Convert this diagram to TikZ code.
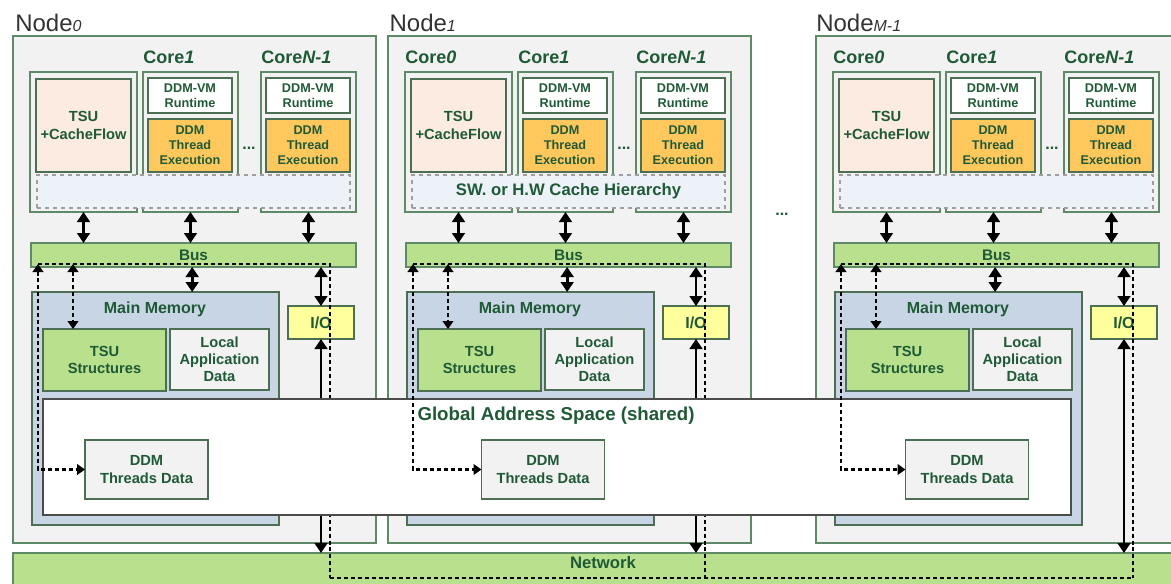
\documentclass[tikz,border=0pt]{standalone}
\usepackage{fontspec}
\setmainfont{Liberation Sans}
\usetikzlibrary{
  positioning,
  arrows.meta,
  calc
}
\definecolor{ink}{HTML}{1F5A36}
\definecolor{edgegreen}{HTML}{5F8A68}
\definecolor{nodebg}{HTML}{F2F2F2}
\definecolor{peach}{HTML}{FBEBE1}
\definecolor{execfill}{HTML}{FFC85C}
\definecolor{cachebg}{HTML}{EDF1F8}
\definecolor{busgreen}{HTML}{B9E08C}
\definecolor{memblue}{HTML}{C8D5E4}
\definecolor{iofill}{HTML}{FFFF9C}
\tikzset{
  wh/.style 2 args={minimum width=#1*0.75pt, minimum height=#2*0.75pt}
}

\begin{document}
\begin{tikzpicture}[
  x=0.75pt, y=-0.75pt,
  nodeframe/.style={draw=edgegreen, line width=1pt, fill=nodebg, inner sep=0pt, outer sep=0pt},
  coreframe/.style={draw=edgegreen, line width=0.9pt, fill=nodebg, inner sep=0pt, outer sep=0pt},
  box/.style={draw=edgegreen!80!black, line width=1pt, inner sep=0pt, outer sep=0pt,
              align=center, text=ink, font=\bfseries\fontsize{11}{13}\selectfont},
  smallbox/.style={box, font=\bfseries\fontsize{9.5}{11.3}\selectfont},
  bar/.style={box, draw=edgegreen, fill=busgreen, font=\bfseries\fontsize{11.5}{12}\selectfont},
  cachebox/.style={draw=gray!75, dashed, line width=0.9pt, fill=cachebg, inner sep=0pt},
  txt/.style={inner sep=0pt, text=ink, font=\bfseries\fontsize{12}{13}\selectfont},
  corelbl/.style={anchor=base west, inner sep=0pt, text=ink, font=\bfseries\fontsize{13.5}{14}\selectfont},
  nodelbl/.style={anchor=base west, inner sep=0pt, text=black!80, font=\fontsize{18}{18}\selectfont},
  link/.style={line width=2pt, {Triangle[length=7.5pt,width=9.5pt]}-{Triangle[length=7.5pt,width=9.5pt]}},
  dashline/.style={line width=1.8pt, dash pattern=on 3pt off 2.2pt},
  dashlink/.style={dashline, {Triangle[length=6pt,width=8pt]}-{Triangle[length=6pt,width=8pt]}}
]
  \useasboundingbox (0,0) rectangle (1171,583);
  \clip (0,0) rectangle (1171,583);

  \node[bar, wh={1180}{40}, anchor=north west,
        label={[txt, anchor=north, yshift=-2pt, font=\bfseries\fontsize{12.5}{13}\selectfont]north:Network}]
        (net) at (13,553) {};

  \foreach \i/\dx in {0/0, 1/375, 2/803} {
    \begin{scope}[shift={(\dx,0)}]
      \node[nodeframe, wh={363}{507}] (nd\i) at (194.5,289.5) {};
      \node[coreframe, wh={107}{140}] (cz\i) at (83.5,142) {};
      \node[coreframe, wh={95}{140}] (co\i) at (190.5,142) {};
      \node[coreframe, wh={95}{140}] (cn\i) at (308.5,142) {};
      \node[box, fill=peach, wh={95}{93}] (tsu\i) at (83.5,125.5) {TSU\\+CacheFlow};
      \node[smallbox, fill=white, wh={84}{35}] (rta\i) at (190,95.5) {DDM-VM\\Runtime};
      \node[smallbox, fill=execfill, wh={84}{53}] (exa\i) at (190,145.5) {DDM\\Thread\\Execution};
      \node[smallbox, fill=white, wh={84}{35}] (rtb\i) at (308,95.5) {DDM-VM\\Runtime};
      \node[smallbox, fill=execfill, wh={84}{53}] (exb\i) at (308,145.5) {DDM\\Thread\\Execution};
      \node[txt] (dots\i) at (249,148) {...};
      \node[cachebox, wh={313}{33}] (cache\i) at (193.5,191.5) {};
      \node[corelbl] (lco\i) at ([yshift=6.75pt]co\i.north west) {Core\textit{1}};
      \node[corelbl] (lcn\i) at ([yshift=6.75pt]cn\i.north west) {Core\textit{N-1}};
      \node[bar, wh={325}{24}] (bus\i) at (193.5,255) {Bus};
      \node[box, fill=memblue, wh={247}{233}] (mm\i) at (155.5,408.5) {};
      \node[txt] (mmt\i) at (155,309) {Main Memory};
      \node[box, fill=busgreen, wh={123}{62}] (tss\i) at (104.5,360) {TSU\\Structures};
      \node[box, fill=nodebg, wh={99}{61}, font=\bfseries\fontsize{11}{12.8}\selectfont]
        (lad\i) at (219.5,359.5) {Local\\Application\\Data};
      \node[box, fill=iofill, wh={66}{33}, font=\bfseries\fontsize{12}{13}\selectfont] (io\i) at (321,322.5) {I/O};

      \coordinate (dl\i) at (38,264);
      \coordinate (dm\i) at (73,264);
      \coordinate (dr\i) at (330,264);
      \coordinate (dn\i) at (330,578);
    \end{scope}

    \draw[link] (cz\i.south) -- (cz\i.south |- bus\i.north);
    \draw[link] (co\i.south) -- (co\i.south |- bus\i.north);
    \draw[link] (cn\i.south) -- (cn\i.south |- bus\i.north);
    \draw[link] ([xshift=-1pt]bus\i.south) -- ([xshift=-1pt]bus\i.south |- mm\i.north);
    \draw[link] (io\i.north) -- (io\i.north |- bus\i.south);
    \draw[link] (io\i.south) -- (io\i.south |- net.north);
    \draw[dashline] (dl\i) -- (dr\i) -- (dn\i);
  }
  \draw[dashline] (dn0) -- (dn2);

  \node[corelbl] (lcz1) at ([yshift=6.75pt]cz1.north west) {Core\textit{0}};
  \node[corelbl] (lcz2) at ([yshift=6.75pt]cz2.north west) {Core\textit{0}};
  \node[txt, font=\bfseries\fontsize{12.5}{13}\selectfont] (cachetxt1) at (cache1) {SW. or H.W Cache Hierarchy};
  \node[nodelbl] (lnd0) at ([xshift=1.5pt, yshift=3.5pt]nd0.north west) {Node{\fontsize{12}{12}\selectfont\itshape 0}};
  \node[nodelbl] (lnd1) at ([xshift=1pt, yshift=3.5pt]nd1.north west) {Node{\fontsize{12}{12}\selectfont\itshape 1}};
  \node[nodelbl] (lnd2) at ([yshift=3.5pt]nd2.north west) {Node{\fontsize{12}{12}\selectfont\itshape M-1}};
  \node[txt] (gap) at (782,214) {...};

  % shared address space over the three memories
  \node[draw=black!70, fill=white, line width=0.8pt, wh={1028}{116}, inner sep=0pt] (gas) at (557,457) {};
  \node[txt, font=\bfseries\fontsize{14}{15}\selectfont] (gastxt) at (556,416) {Global Address Space (shared)};

  \foreach \i/\tx in {0/146.5, 1/543, 2/967} {
    \node[box, fill=nodebg, wh={123}{59}] (thd\i) at (\tx,469.5) {DDM\\Threads Data};
    \draw[dashlink] (dl\i) |- (thd\i.west);
    \draw[dashlink] (dm\i) -- (dm\i |- tss\i.north);
  }
\end{tikzpicture}
\end{document}
